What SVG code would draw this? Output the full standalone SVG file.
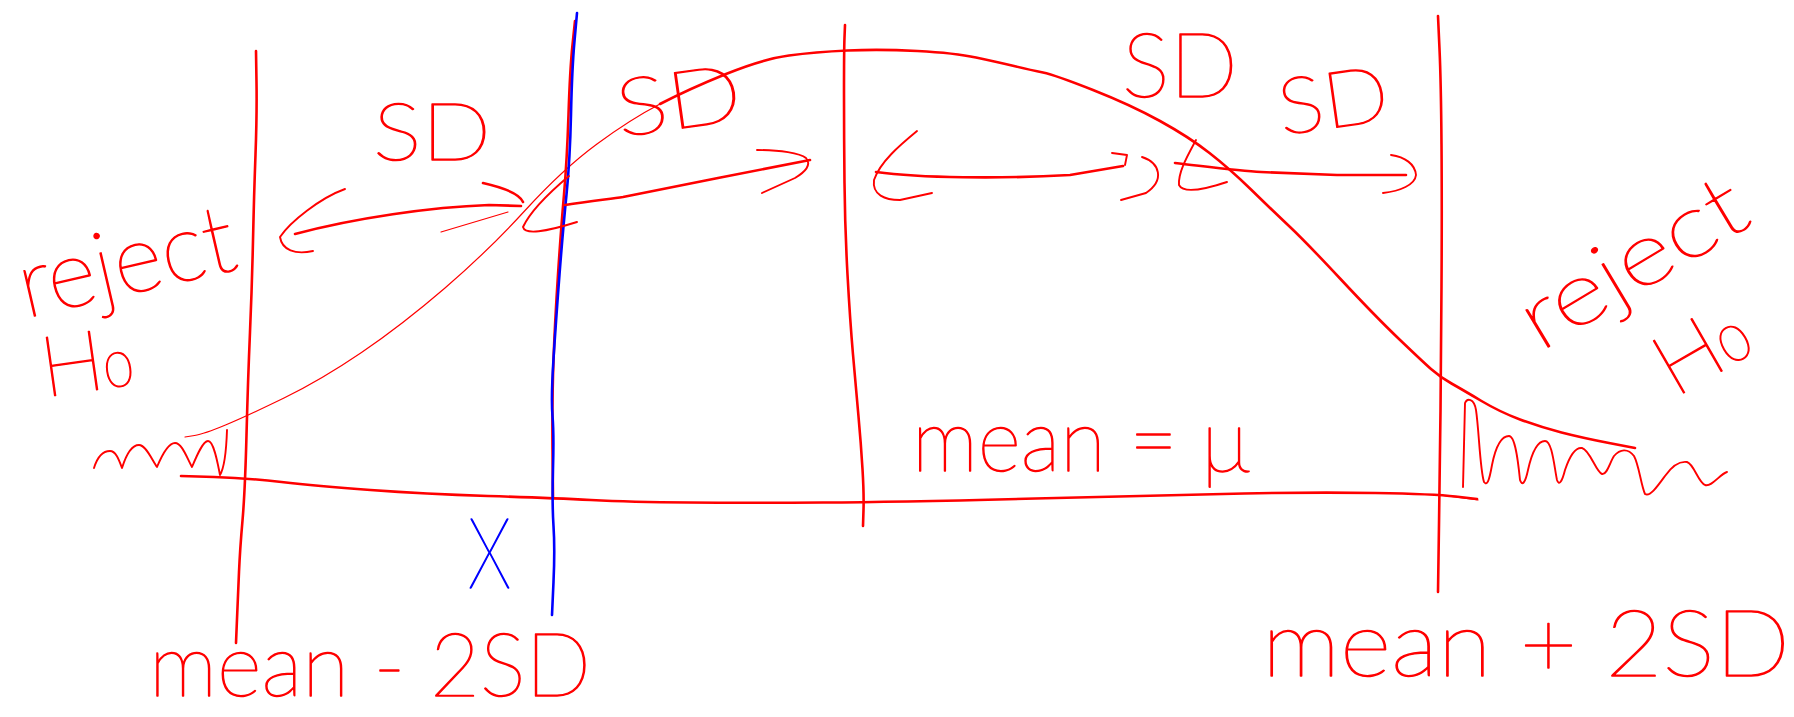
<svg xmlns="http://www.w3.org/2000/svg" width="1794" height="717" viewBox="0 0 1794 717">
<style>
.r{fill:none;stroke:#ff0000;stroke-width:2.6;stroke-linecap:round;stroke-linejoin:round}
.th{stroke-width:1.2}
.md{stroke-width:1.9}
.b{fill:none;stroke:#0000ff;stroke-width:2.6;stroke-linecap:round;stroke-linejoin:round}
.t{fill:#ff0000;stroke:#ff0000;stroke-width:1.4;stroke-linejoin:round;font-family:Lato,Inter,"Liberation Sans",sans-serif;font-weight:200}
.tb{fill:#0000ff;stroke:#0000ff;stroke-width:1.4;stroke-linejoin:round;font-family:Lato,Inter,"Liberation Sans",sans-serif;font-weight:200}
</style>
<rect width="1794" height="717" fill="#ffffff"/>

<g id="axis">
<path class="r" d="M181,476 L214,477 Q247,478 281.5,482 Q316,486 370.5,490 Q425,494 488,496 Q551,498 591,500 Q631,502 688.5,502.5 Q746,503 823,502.5 Q900,502 1035.5,498.5 Q1171,495 1244,493.5 Q1317,492 1375.5,493 Q1434,494 1455.5,496.5 L1477,499"/>
</g>

<g id="bell-curve">
<path class="r th" d="M185,437 L194.5,435.5 Q204,434 225.5,425 Q247,416 284,398 Q321,380 361.5,352.5 Q402,325 445,288 Q488,251 525.5,210 Q563,169 597,144 Q631,119 660,104"/>
<path class="r" d="M660,104 Q689,89 726,74 Q763,59 789,55.5 Q815,52 847.5,50.5 Q880,49 917.5,51 Q955,53 976,57.5 Q997,62 1014,66 Q1031,70 1043,72.5 Q1055,75 1093,90 Q1131,105 1160,121 Q1189,137 1209.5,153 Q1230,169 1251,189.5 Q1272,210 1289,226 Q1306,242 1340.5,279 Q1375,316 1398.5,338.5 Q1422,361 1431,369 Q1440,377 1451.5,383.5 Q1463,390 1481.5,401 Q1500,412 1520,419.5 Q1540,427 1561.5,432.5 Q1583,438 1609,443 L1635,448"/>
</g>

<g id="line-mean-minus-2sd">
<path class="r" d="M256,51 L256.5,82.5 Q257,114 255.5,154.5 Q254,195 253,240.5 Q252,286 250,332 Q248,378 246.5,435 Q245,492 242.5,520.5 Q240,549 239,572 Q238,595 237,619 L236,643"/>
</g>
<g id="line-mean">
<path class="r" d="M845,25 L844.5,37.5 Q844,50 844,93.5 Q844,137 844.5,183 Q845,229 847.5,274.5 Q850,320 853,354.5 Q856,389 858.5,416.5 Q861,444 862.5,469 Q864,494 863.5,510 L863,526"/>
</g>
<g id="line-mean-plus-2sd">
<path class="r" d="M1438,16 L1439.5,49 Q1441,82 1441.5,144 Q1442,206 1441.5,286 Q1441,366 1440.5,411.5 Q1440,457 1439,524.5 L1438,592"/>
</g>
<g id="line-x">
<path class="r" d="M575,21 L572.5,45 Q570,69 568.5,114.5 Q567,160 564,194.5 Q561,229 558,274.5 Q555,320 553.5,360 Q552,400 552.5,449 L553,498"/>
<path class="b" d="M577,13 L574.5,41 Q572,69 571,114.5 Q570,160 566.5,194.5 Q563,229 559.5,274.5 Q556,320 553.5,359 Q551,398 552.5,416 Q554,434 553,468.5 Q552,503 553.5,526 Q555,549 553.5,582 L552,615"/>
</g>

<g id="connectors">
<g id="arrow-1">
<path class="r" d="M295,234 C355,218 431,207 489,205 L521,206"/>
<path class="r md" d="M345,189 C320,198 290,222 280,237 C282,250 295,255 313,251"/>
<path class="r" d="M483,183 C505,188 520,195 523,202"/>
<path class="r th" d="M508,212 L441,232"/>
</g>
<g id="arrow-2">
<path class="r" d="M565,205 C590,201 610,199 623,197 L718,178 L810,160"/>
<path class="r md" d="M569,176 C550,192 530,212 523,227 C525,235 545,232 577,222"/>
<path class="r md" d="M757,150 C780,150 800,153 806,158 C812,165 805,172 795,178 L762,193"/>
</g>
<g id="arrow-3">
<path class="r" d="M876,172 C920,178 1000,179 1070,175 L1123,166"/>
<path class="r md" d="M917,131 C900,145 880,162 874,180 C872,195 885,200 900,200 L932,193"/>
<path class="r md" d="M1112,153 L1127,155 L1125,165"/>
<path class="r md" d="M1142,157 C1160,163 1165,180 1146,193 L1121,200"/>
</g>
<g id="arrow-4">
<path class="r" d="M1175,163 C1210,167 1240,171 1261,172 L1337,175 L1406,175"/>
<path class="r md" d="M1196,140 C1188,155 1178,172 1179,185 C1183,193 1200,191 1227,182"/>
<path class="r md" d="M1391,155 C1405,157 1415,164 1416,175 C1415,185 1400,191 1383,193"/>
</g>
</g>

<g id="hatch-left">
<path class="r md" d="M94,468 C98,455 104,451 110,451 C116,451 119,460 122,468 C127,452 133,445 139,445 C146,445 152,460 157,467 C162,455 168,443 175,443 C182,443 187,458 192,467 C197,455 203,441 208,441 C214,441 218,465 220,475 C223,470 226,460 227,430"/>
</g>
<g id="hatch-right">
<path class="r md" d="M1463,487 L1465,403 C1467,398 1474,398 1476,410 C1479,430 1480,470 1484,482 C1487,486 1489,482 1492,465 C1496,445 1502,436 1509,436 C1515,436 1518,460 1520,480 C1522,486 1525,484 1528,470 C1532,452 1538,441 1545,441 C1552,441 1554,465 1557,480 C1559,486 1562,482 1565,470 C1570,455 1575,447 1582,448 C1590,450 1596,472 1602,474 C1607,475 1610,462 1614,456 C1620,449 1628,448 1634,456 C1639,465 1641,485 1645,494 C1650,497 1657,487 1665,476 C1672,466 1680,461 1687,462 C1694,464 1698,482 1705,485 C1712,487 1720,474 1727,472"/>
<path class="r th" d="M1440,495 L1478,500"/>
</g>

<g id="labels">
<text class="t" x="373" y="160" font-size="80" textLength="118" lengthAdjust="spacingAndGlyphs">SD</text>
<text class="t" x="620" y="137" font-size="80" textLength="126" lengthAdjust="spacingAndGlyphs" transform="rotate(-8 620 137)">SD</text>
<text class="t" x="1122" y="97" font-size="90" textLength="116" lengthAdjust="spacingAndGlyphs">SD</text>
<text class="t" x="1282" y="135" font-size="78" textLength="111" lengthAdjust="spacingAndGlyphs" transform="rotate(-8 1282 135)">SD</text>
<text class="t" x="26" y="318" font-size="95" textLength="220" lengthAdjust="spacingAndGlyphs" transform="rotate(-13 26 318)">reject</text>
<text class="t" x="45" y="397" font-size="84" transform="rotate(-8 45 397)">H<tspan font-size="48">0</tspan></text>
<text class="t" x="1540" y="352" font-size="88" textLength="250" lengthAdjust="spacingAndGlyphs" transform="rotate(-31 1540 352)">reject</text>
<text class="t" x="1675" y="398" font-size="86" transform="rotate(-30 1675 398)">H<tspan font-size="50">0</tspan></text>
<text class="t" x="912" y="471" font-size="88" textLength="338" lengthAdjust="spacingAndGlyphs">mean = μ</text>
<text class="t" x="149" y="696" font-size="88" textLength="442" lengthAdjust="spacingAndGlyphs">mean - 2SD</text>
<text class="t" x="1262" y="676" font-size="92" textLength="528" lengthAdjust="spacingAndGlyphs">mean + 2SD</text>
<text class="tb" x="468" y="588" font-size="98" textLength="43" lengthAdjust="spacingAndGlyphs">X</text>
</g>
</svg>
